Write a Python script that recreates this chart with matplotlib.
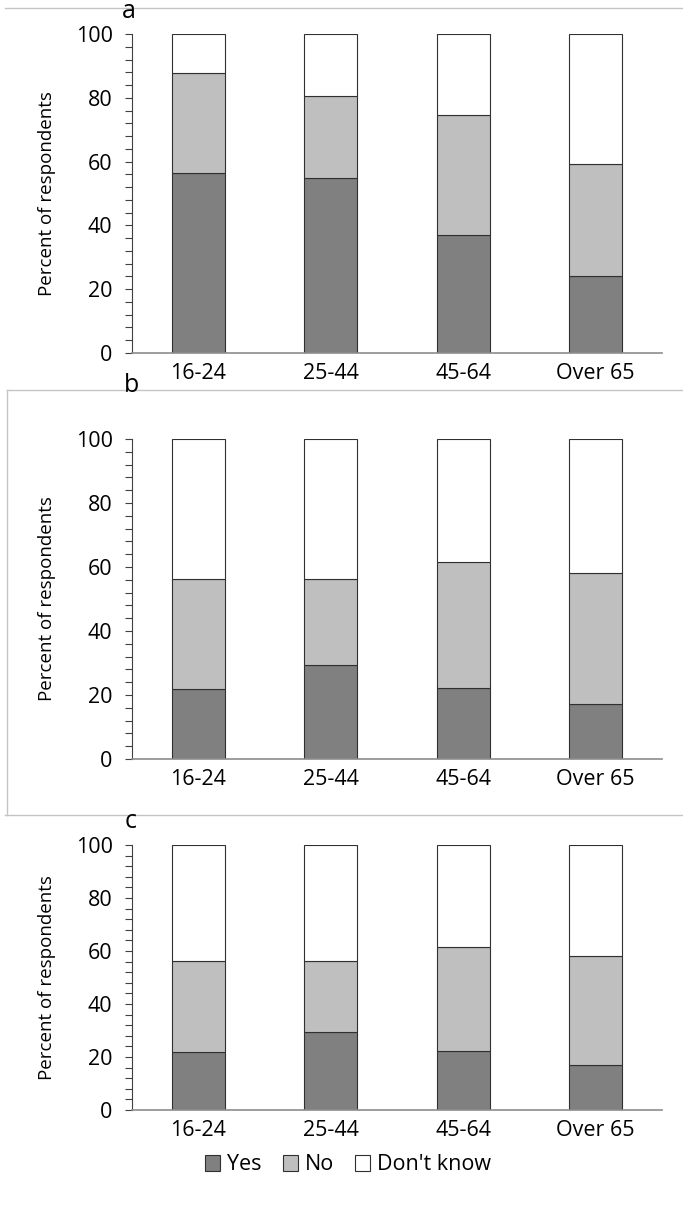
import matplotlib
matplotlib.use("Agg")
import matplotlib.pyplot as plt
from matplotlib.patches import Patch
from matplotlib.lines import Line2D
import numpy as np

plt.rcParams['font.family'] = ['Open Sans', 'DejaVu Sans']

# Age groups and responses (percent of respondents)
age_groups = ["16-24", "25-44", "45-64", "Over 65"]
series_names = ["Yes", "No", "Don't know"]

yes_a = [56.3, 54.8, 37.0, 24.0]
no_a = [31.4, 25.7, 37.6, 35.1]

yes_b = [22.0, 29.5, 22.3, 17.1]
no_b = [34.3, 26.8, 39.2, 41.1]

yes_c = [22.0, 29.5, 22.3, 17.1]
no_c = [34.3, 26.8, 39.2, 41.1]

panel_letters = ["a", "b", "c"]
panels = [(yes_a, no_a), (yes_b, no_b), (yes_c, no_c)]

colors = ["#808080", "#bfbfbf", "#ffffff"]
edge = "#303030"

W, H = 683, 1207
fig = plt.figure(figsize=(W / 100, H / 100), dpi=100)

# axes boxes in pixels: (top, bottom)
ax_left, ax_right = 132, 662
boxes = [(34, 353), (439, 759), (845, 1110)]


def px_rect(top, bottom):
    return [ax_left / W, 1 - bottom / H, (ax_right - ax_left) / W, (bottom - top) / H]


x = np.arange(len(age_groups))
for (top, bottom), (yes, no), letter in zip(boxes, panels, panel_letters):
    ax = fig.add_axes(px_rect(top, bottom))
    yes = np.array(yes)
    no = np.array(no)
    dk = 100 - yes - no
    ax.bar(x, yes, width=0.4, color=colors[0], edgecolor=edge, linewidth=0.8)
    ax.bar(x, no, width=0.4, bottom=yes, color=colors[1], edgecolor=edge, linewidth=0.8)
    ax.bar(x, dk, width=0.4, bottom=yes + no, color=colors[2], edgecolor=edge, linewidth=0.8)
    ax.set_xlim(-0.5, 3.5)
    ax.set_ylim(0, 100)
    ax.set_yticks(np.arange(0, 101, 20))
    ax.set_yticks(np.arange(0, 101, 4), minor=True)
    ax.set_xticks(x)
    ax.set_xticklabels(age_groups)
    ax.tick_params(axis='y', which='both', direction='out', length=5, width=0.8,
                   color='#404040', labelsize=15.5, pad=9)
    ax.tick_params(axis='x', length=0, labelsize=15.5, pad=7)
    for s in ['top', 'right']:
        ax.spines[s].set_visible(False)
    ax.spines['left'].set_color('#404040')
    ax.spines['left'].set_linewidth(0.8)
    ax.spines['bottom'].set_color('#8c8c8c')
    ax.spines['bottom'].set_linewidth(1.2)
    ax.set_ylabel("Percent of respondents", fontsize=13.5)
    ax.yaxis.set_label_coords(-0.143, 0.5)
    ax.set_facecolor('none')

# panel letters and frame lines
frame = '#c4c4c4'
fig.add_artist(Line2D([5 / W, 1], [1 - 8 / H, 1 - 8 / H], color=frame, lw=1))
fig.text(129 / W, 1 - 12 / H, "a", fontsize=18, ha='center', va='center')

fig.add_artist(Line2D([7 / W, 1], [1 - 390 / H, 1 - 390 / H], color=frame, lw=1))
fig.add_artist(Line2D([7 / W, 7 / W], [1 - 390 / H, 1 - 815 / H], color=frame, lw=1))
fig.text(131 / W, 1 - 385 / H, "b", fontsize=18, ha='center', va='center')

fig.add_artist(Line2D([5 / W, 1], [1 - 815 / H, 1 - 815 / H], color=frame, lw=1))
fig.text(131 / W, 1 - 822 / H, "c", fontsize=18, ha='center', va='center')

handles = [Patch(facecolor=c, edgecolor=edge, linewidth=0.8) for c in colors]
fig.legend(handles, series_names, loc='center', bbox_to_anchor=(348 / W, 1 - 1165 / H),
           ncol=3, frameon=False, fontsize=15.5, handlelength=0.7, handleheight=0.7,
           handletextpad=0.3, columnspacing=1.0)

fig.savefig("out.png", dpi=100)
